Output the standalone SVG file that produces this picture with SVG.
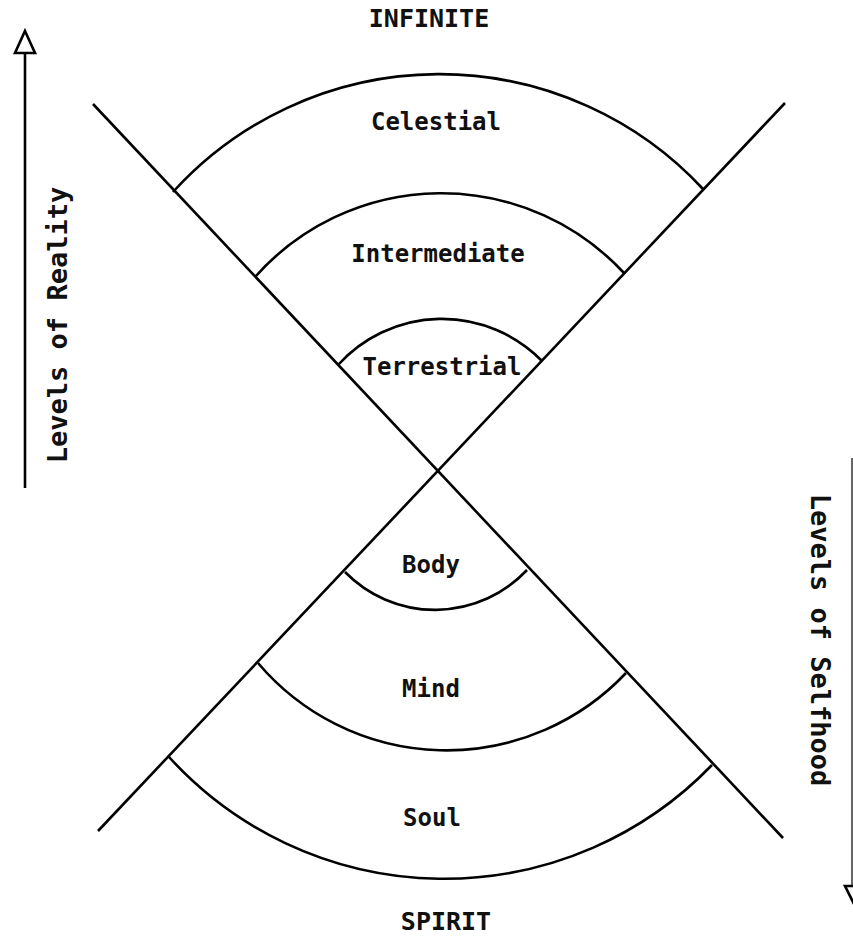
<svg xmlns="http://www.w3.org/2000/svg" width="853" height="937" viewBox="0 0 853 937">
<defs>
<style>
.ln{stroke:#000;stroke-width:2.6;fill:none;stroke-linecap:butt}
.t{font-family:"DejaVu Sans Mono","Liberation Mono",monospace;font-weight:bold;fill:#111;text-anchor:middle}
.s{font-size:24px}
.b{font-size:25px}
.ax{font-size:27px}
</style>
</defs>
<rect width="853" height="937" fill="#fff"/>
<g id="connectors">
<line class="ln" x1="93" y1="104" x2="783" y2="838"/>
<line class="ln" x1="785" y1="103" x2="98" y2="831"/>
</g>
<g id="celestial">
<path class="ln" d="M173 192 A360 360 0 0 1 703 189"/>
<text class="t s" x="436" y="130">Celestial</text>
</g>
<g id="intermediate">
<path class="ln" d="M255 277 A249 249 0 0 1 624 273"/>
<text class="t s" x="438" y="262">Intermediate</text>
</g>
<g id="terrestrial">
<path class="ln" d="M338 365 A140 140 0 0 1 542 361"/>
<text class="t s" x="442" y="375">Terrestrial</text>
</g>
<g id="body">
<path class="ln" d="M345 572 A126 126 0 0 0 527 570"/>
<text class="t s" x="431" y="573">Body</text>
</g>
<g id="mind">
<path class="ln" d="M258 663 A247 247 0 0 0 626 673"/>
<text class="t s" x="431" y="697">Mind</text>
</g>
<g id="soul">
<path class="ln" d="M169 757 A372 372 0 0 0 712 765"/>
<text class="t s" x="432" y="826">Soul</text>
</g>
<g id="infinite">
<text class="t b" x="429" y="27">INFINITE</text>
</g>
<g id="spirit">
<text class="t b" x="446" y="930">SPIRIT</text>
</g>
<g id="reality-axis">
<line class="ln" x1="25" y1="488" x2="25" y2="52"/>
<path d="M25 31 L35 53 L15 53 Z" fill="#fff" stroke="#000" stroke-width="2.6"/>
<text class="t ax" transform="translate(67 325) rotate(-90)">Levels of Reality</text>
</g>
<g id="selfhood-axis">
<line x1="852" y1="458" x2="852" y2="887" stroke="#666" stroke-width="2"/>
<path d="M855 906 L845 886 L865 886 Z" fill="#fff" stroke="#000" stroke-width="2.6"/>
<text class="t ax" transform="translate(811 640) rotate(90)">Levels of Selfhood</text>
</g>
</svg>
